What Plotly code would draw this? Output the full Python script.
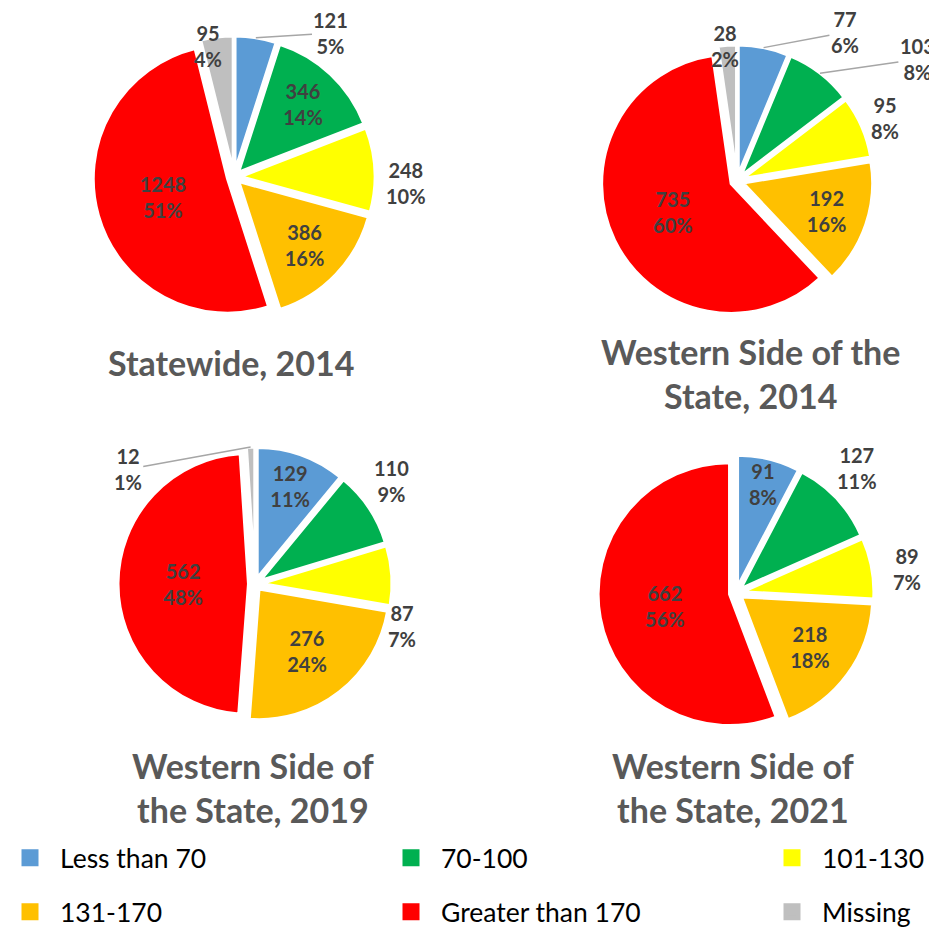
import math
import plotly.graph_objects as go

W, H = 929, 928

categories = ["Less than 70", "70-100", "101-130", "131-170", "Greater than 170", "Missing"]
colors = ["#5B9BD5", "#00B050", "#FFFF00", "#FFC000", "#FF0000", "#BFBFBF"]

statewide_2014 = [121, 346, 248, 386, 1248, 95]
statewide_2014_pct = ["5%", "14%", "10%", "16%", "51%", "4%"]

western_2014 = [77, 103, 95, 192, 735, 28]
western_2014_pct = ["6%", "8%", "8%", "16%", "60%", "2%"]

western_2019 = [129, 110, 87, 276, 562, 12]
western_2019_pct = ["11%", "9%", "7%", "24%", "48%", "1%"]

western_2021 = [91, 127, 89, 218, 662, 0]
western_2021_pct = ["8%", "11%", "7%", "18%", "56%", ""]

titles = ["Statewide, 2014", "Western Side of the<br>State, 2014",
          "Western Side of<br>the State, 2019", "Western Side of<br>the State, 2021"]

# ---- styling / placement (not data) ----
# outside-label placement per slice: (angle deg clockwise from 12 o'clock, distance / outer radius, leader line)
# None -> label drawn inside the slice by plotly
place_2014s = [(34, 1.23, True), None, (92, 1.22, False), None, None, (-11, 0.95, False)]
place_2014w = [(36, 1.35, True), (56, 1.60, True), (67, 1.18, False), None, None, (-5, 1.0, False)]
place_2019w = [None, (53, 1.25, False), (106, 1.12, False), None, None, (-48, 1.25, True)]
place_2021w = [None, (44, 1.26, False), (82, 1.25, False), None, None, None]

# pie boxes in pixels: (x0, x1, y_top, y_bottom)
boxes = [(93, 375, 36, 318), (601, 873, 45, 317), (118, 392, 447, 721), (598, 874, 455, 731)]
title_pos = [(231, 362), (750, 374), (253, 787), (733, 787)]
PULL = 0.05
FONT = "Lato"
LABEL_FONT = dict(family=FONT, size=20, color="#404040", weight="bold")

fig = go.Figure()

series = [
    (statewide_2014, statewide_2014_pct, place_2014s),
    (western_2014, western_2014_pct, place_2014w),
    (western_2019, western_2019_pct, place_2019w),
    (western_2021, western_2021_pct, place_2021w),
]

for (vals, pcts, places), (x0, x1, yt, yb) in zip(series, boxes):
    keep = [i for i, v in enumerate(vals) if v > 0]
    fig.add_trace(go.Pie(
        labels=[categories[i] for i in keep],
        values=[vals[i] for i in keep],
        text=[pcts[i] for i in keep],
        textposition=["inside" if places[i] is None else "none" for i in keep],
        texttemplate="%{value}<br>%{text}",
        marker=dict(colors=[colors[i] for i in keep], line=dict(color="white", width=3)),
        pull=PULL,
        sort=False,
        direction="clockwise",
        rotation=0,
        insidetextorientation="horizontal",
        textfont=LABEL_FONT,
        domain=dict(x=[x0 / W, x1 / W], y=[1 - yb / H, 1 - yt / H]),
        showlegend=False,
        hoverinfo="label+value",
    ))

    # outside labels, positioned from the same pie geometry plotly uses
    cx, cy = (x0 + x1) / 2, (yt + yb) / 2
    r = min(x1 - x0, yb - yt) / 2 / (1 + PULL)
    R = r * (1 + PULL)
    total = sum(vals[i] for i in keep)
    cum = 0
    for i in keep:
        v = vals[i]
        mid = (cum + v / 2) / total * 2 * math.pi
        cum += v
        if places[i] is None:
            continue
        ang, dist, leader = places[i]
        a = math.radians(ang)
        lx, ly = cx + dist * R * math.sin(a), cy - dist * R * math.cos(a)
        txt = f"{v}<br>{pcts[i]}"
        if leader:
            tx, ty = cx + R * math.sin(mid), cy - R * math.cos(mid)
            fig.add_annotation(text=txt, x=tx / W, y=1 - ty / H, xref="paper", yref="paper",
                               ax=lx - tx, ay=ly - ty, showarrow=True, arrowhead=0,
                               arrowwidth=1.5, arrowcolor="#A6A6A6", standoff=0,
                               font=LABEL_FONT)
        else:
            fig.add_annotation(text=txt, x=lx / W, y=1 - ly / H, xref="paper", yref="paper",
                               xanchor="center", yanchor="middle", showarrow=False,
                               font=LABEL_FONT)

# legend entries: two rows of three, one entry per trace
ITEM_W = 50          # legend symbol area
ENTRY_W = 316        # text area for columns 1 and 2
TEXT_GAP = ITEM_W + 10
icon_x = [TEXT_GAP / 2 + k * (TEXT_GAP + ENTRY_W + 5) for k in range(3)]
icon_y = {"legend": 858, "legend2": 912}
legend_rows = [("legend", [0, 1, 2]), ("legend2", [3, 4, 5])]
for legname, idx in legend_rows:
    for k, i in enumerate(idx):
        px, py = icon_x[k], icon_y[legname]
        fig.add_trace(go.Pie(
            labels=[categories[i]],
            values=[1],
            marker=dict(colors=[colors[i]], line=dict(color=colors[i], width=10)),
            textinfo="none",
            hoverinfo="skip",
            domain=dict(x=[(px - 0.2) / W, (px + 0.2) / W], y=[1 - (py + 0.2) / H, 1 - (py - 0.2) / H]),
            legend=legname,
            legendwidth=ENTRY_W if k < 2 else None,
            showlegend=True,
        ))

for t, (tx, ty) in zip(titles, title_pos):
    fig.add_annotation(text=t, x=tx / W, y=1 - ty / H, xref="paper", yref="paper",
                       xanchor="center", yanchor="middle", showarrow=False,
                       font=dict(family=FONT, size=34, color="#595959", weight="bold"))

legend_common = dict(orientation="h", xanchor="left", yanchor="middle", x=0,
                     font=dict(family=FONT, size=26.5, color="#000000"),
                     itemwidth=ITEM_W,
                     bgcolor="rgba(0,0,0,0)", itemclick=False, itemdoubleclick=False)

fig.update_layout(
    width=W, height=H,
    margin=dict(l=0, r=0, t=0, b=0, autoexpand=False),
    paper_bgcolor="white",
    uniformtext=dict(minsize=20, mode="show"),
    legend=dict(y=1 - icon_y["legend"] / H, **legend_common),
    legend2=dict(y=1 - icon_y["legend2"] / H, **legend_common),
)

fig.write_html("out.html", config={"displayModeBar": False},
               post_script="document.body.style.margin='0px';")
